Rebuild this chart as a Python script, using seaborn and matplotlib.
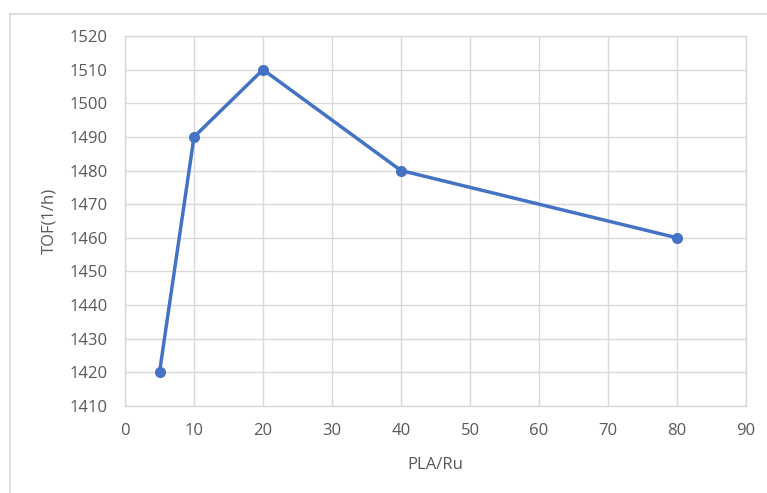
import matplotlib
matplotlib.use("Agg")
import matplotlib.pyplot as plt
from matplotlib.lines import Line2D
import seaborn as sns
import pandas as pd

# PLA/Ru ratio vs. turnover frequency
pla_ru = [5, 10, 20, 40, 80]
tof = [1420, 1490, 1510, 1480, 1460]
x_ticks = [0, 10, 20, 30, 40, 50, 60, 70, 80, 90]
y_ticks = [1410, 1420, 1430, 1440, 1450, 1460, 1470, 1480, 1490, 1500, 1510, 1520]

df = pd.DataFrame({"PLA/Ru": pla_ru, "TOF(1/h)": tof})

sns.set_theme(style="white")
plt.rcParams["font.family"] = ["Open Sans", "DejaVu Sans"]

fig = plt.figure(figsize=(7.67, 4.93), dpi=100)
ax = fig.add_axes([125 / 767, 1 - 406 / 493, (746 - 125) / 767, (406 - 36) / 493])

sns.lineplot(data=df, x="PLA/Ru", y="TOF(1/h)", ax=ax, color="#4472C4",
             linewidth=2.5, marker="o", markersize=8, markeredgewidth=0,
             zorder=3)

grid_c = "#D9D9D9"
ax.set_xlim(0, 90)
ax.set_ylim(1410, 1520)
ax.set_xticks(x_ticks)
ax.set_yticks(y_ticks)
ax.grid(True, color=grid_c, linewidth=1.0)
ax.set_axisbelow(True)
for s in ax.spines.values():
    s.set_visible(True)
    s.set_color(grid_c)
    s.set_linewidth(1.0)
ax.tick_params(axis="both", length=0, labelsize=12, labelcolor="#595959")
ax.tick_params(axis="x", pad=12)
ax.tick_params(axis="y", pad=12.5)
ax.set_xlabel("PLA/Ru", fontsize=12, color="#595959", labelpad=13)
ax.set_ylabel("TOF(1/h)", fontsize=12, color="#595959", labelpad=9)

# chart frame
fig.add_artist(Line2D([9.5 / 767, 1.0], [1 - 13.5 / 493, 1 - 13.5 / 493],
                      transform=fig.transFigure, color=grid_c, linewidth=1.2))
fig.add_artist(Line2D([9.5 / 767, 9.5 / 767], [0, 1 - 13.5 / 493],
                      transform=fig.transFigure, color=grid_c, linewidth=1.2))

fig.savefig("out.png", dpi=100, facecolor="white")
